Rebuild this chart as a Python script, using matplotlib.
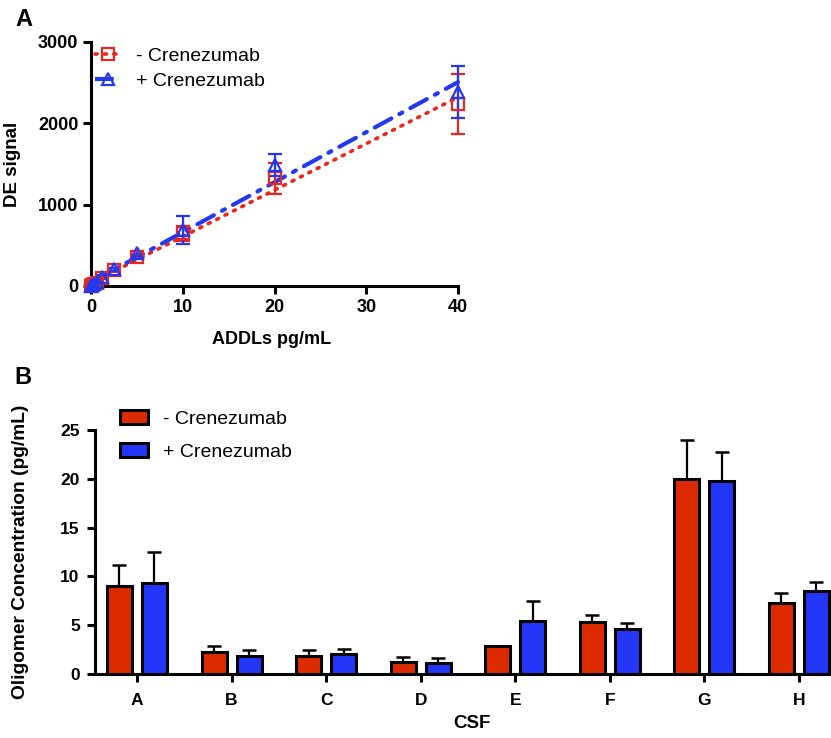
import numpy as np
import matplotlib
matplotlib.use("Agg")
import matplotlib.pyplot as plt
from matplotlib.patches import Patch
from matplotlib.lines import Line2D

plt.rcParams['font.family'] = ['Liberation Sans', 'DejaVu Sans']

# ---------------- Panel A data ----------------
addl_conc = [0, 0.156, 0.3125, 0.625, 1.25, 2.5, 5, 10, 20, 40]
signal_minus = [0, 10, 20, 40, 95, 197, 360, 648, 1324, 2234]
err_minus = [5, 5, 8, 10, 15, 20, 30, 95, 190, 370]
signal_plus = [0, 12, 25, 50, 115, 205, 400, 689, 1488, 2389]
err_plus = [5, 6, 8, 10, 15, 20, 25, 172, 131, 322]

# ---------------- Panel B data ----------------
csf_labels = ['A', 'B', 'C', 'D', 'E', 'F', 'G', 'H']
oligo_minus = [9.05, 2.30, 1.84, 1.20, 2.90, 5.30, 19.98, 7.24]
oligo_minus_err = [2.12, 0.60, 0.62, 0.51, 0.0, 0.74, 3.96, 1.09]
oligo_plus = [9.36, 1.88, 2.05, 1.16, 5.46, 4.61, 19.80, 8.50]
oligo_plus_err = [3.14, 0.58, 0.51, 0.51, 2.05, 0.58, 2.98, 0.90]

RED = '#DC2B00'
BLUE = '#2335F7'
RED_A = '#E8271E'
BLUE_A = '#2438F0'

W, H = 831, 738
fig = plt.figure(figsize=(W / 100, H / 100), dpi=100)

def fx(px):
    return px / W

def fy(py):
    return 1 - py / H

# ================= Panel A =================
axA_w = 458 - 91
axA_h = 286 - 42
axA = fig.add_axes([fx(91), fy(286), axA_w / W, axA_h / H])
x = np.array(addl_conc, dtype=float)
for ys, es, col, mk, ls, lw in [
    (signal_minus, err_minus, RED_A, 's', (0, (0.6, 2.0)), 2.6),
    (signal_plus, err_plus, BLUE_A, '^', (0, (4.5, 2.2, 0.8, 2.2)), 3.0),
]:
    ys = np.array(ys, dtype=float)
    slope, icpt = np.polyfit(x, ys, 1)
    xx = np.array([0, 40.0])
    axA.plot(xx, slope * xx + icpt, color=col, lw=lw, linestyle=ls,
             dash_capstyle='round', solid_capstyle='round', zorder=2, clip_on=False)
    axA.errorbar(x, ys, yerr=es, fmt=mk, color=col, mfc='none', mec=col,
                 ms=9, mew=1.6, elinewidth=1.6, capsize=5, capthick=1.6,
                 zorder=3, clip_on=False)

axA.set_xlim(0, 40)
axA.set_ylim(0, 3000)
axA.set_xticks([0, 10, 20, 30, 40])
axA.set_yticks([0, 1000, 2000, 3000])
for s in ['top', 'right']:
    axA.spines[s].set_visible(False)
for s in ['left', 'bottom']:
    axA.spines[s].set_linewidth(2.2)
axA.tick_params(width=2.2, length=6, labelsize=13, pad=3)
for lab in axA.get_xticklabels() + axA.get_yticklabels():
    lab.set_fontweight('bold')
axA.set_ylabel('DE signal', fontsize=13.5, fontweight='bold')
axA.yaxis.set_label_coords(-(91 - 21) / axA_w, 0.5)
axA.set_xlabel('ADDLs pg/mL', fontsize=13, fontweight='bold', va='center')
axA.xaxis.set_label_coords((272 - 91) / axA_w, -(340 - 286) / axA_h)

legA_handles = [
    Line2D([], [], color=RED_A, lw=2.6, linestyle=(0, (0.6, 2.0)), marker='s',
           mfc='none', mec=RED_A, ms=9, mew=1.6, dash_capstyle='round'),
    Line2D([], [], color=BLUE_A, lw=3.0, linestyle=(0, (4.5, 2.2, 0.8, 2.2)), marker='^',
           mfc='none', mec=BLUE_A, ms=9, mew=1.6),
]
fig.legend(legA_handles, ['- Crenezumab', '+ Crenezumab'],
           loc='upper left', bbox_to_anchor=(fx(95), fy(47)),
           frameon=False, fontsize=14, handlelength=1.38, handletextpad=0.75,
           labelspacing=0.38, borderpad=0, borderaxespad=0)

fig.text(fx(15), fy(19), 'A', fontsize=17, fontweight='bold', va='center', ha='left')

# ================= Panel B =================
axB_w = W + 2 - 95
axB_h = 674 - 430
axB = fig.add_axes([fx(95), fy(674), axB_w / W, axB_h / H])
xi = np.arange(len(csf_labels))
bw = 0.265
off = 0.185
n = len(csf_labels)
axB.bar(xi - off, oligo_minus, width=bw, color=RED, edgecolor='black',
        linewidth=2.2, zorder=3)
axB.bar(xi + off, oligo_plus, width=bw, color=BLUE, edgecolor='black',
        linewidth=2.2, zorder=3)
axB.errorbar(xi - off, oligo_minus, yerr=[np.zeros(n), oligo_minus_err], fmt='none',
             ecolor='black', elinewidth=1.6, capsize=5, capthick=1.8, zorder=2)
axB.errorbar(xi + off, oligo_plus, yerr=[np.zeros(n), oligo_plus_err], fmt='none',
             ecolor='black', elinewidth=1.6, capsize=5, capthick=1.8, zorder=2)

axB.set_xlim(-0.444, 7.36)
axB.set_ylim(0, 25)
axB.set_yticks([0, 5, 10, 15, 20, 25])
axB.set_xticks(xi)
axB.set_xticklabels(csf_labels)
for s in ['top', 'right']:
    axB.spines[s].set_visible(False)
for s in ['left', 'bottom']:
    axB.spines[s].set_linewidth(2.2)
axB.tick_params(width=2.2, length=6, labelsize=12.5, pad=5)
axB.tick_params(axis='x', pad=8)
for lab in axB.get_xticklabels() + axB.get_yticklabels():
    lab.set_fontweight('bold')
axB.set_ylabel('Oligomer Concentration (pg/mL)', fontsize=13.8, fontweight='bold')
axB.yaxis.set_label_coords(-(95 - 29) / axB_w, 0.5)
axB.set_xlabel('CSF', fontsize=13.5, fontweight='bold', va='center')
axB.xaxis.set_label_coords((472 - 95) / axB_w, -(723 - 674) / axB_h)

legB_handles = [Patch(facecolor=RED, edgecolor='black', linewidth=2.2),
                Patch(facecolor=BLUE, edgecolor='black', linewidth=2.2)]
fig.legend(legB_handles, ['- Crenezumab', '+ Crenezumab'],
           loc='upper left', bbox_to_anchor=(fx(120), fy(410)),
           frameon=False, fontsize=14, handlelength=1.44, handleheight=0.72,
           handletextpad=0.77, labelspacing=0.8, borderpad=0, borderaxespad=0)

fig.text(fx(14), fy(378), 'B', fontsize=17, fontweight='bold', va='center', ha='left')

fig.savefig('out.png', dpi=100)
